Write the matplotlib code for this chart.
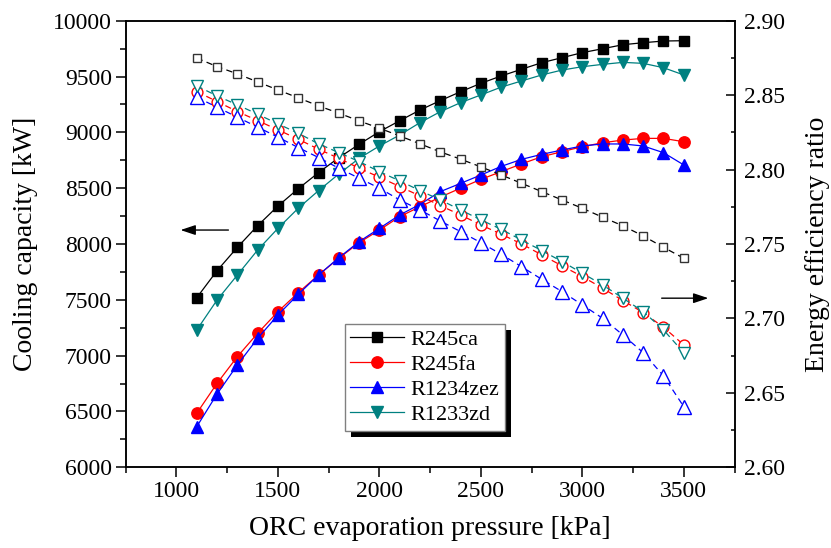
import matplotlib
matplotlib.use("Agg")
import matplotlib.pyplot as plt
from matplotlib.ticker import MultipleLocator, FormatStrFormatter
from matplotlib.patches import Rectangle
from matplotlib.transforms import IdentityTransform

plt.rcParams['font.family'] = ['Liberation Serif', 'DejaVu Serif']

# evaporation pressure [kPa]
pressure = [1100, 1200, 1300, 1400, 1500, 1600, 1700, 1800, 1900, 2000,
            2100, 2200, 2300, 2400, 2500, 2600, 2700, 2800, 2900, 3000,
            3100, 3200, 3300, 3400, 3500]

# cooling capacity [kW]
cap_r245ca = [7519, 7761, 7970, 8164, 8340, 8495, 8639, 8773, 8893, 9006,
              9104, 9200, 9284, 9364, 9439, 9505, 9565, 9624, 9669, 9714,
              9749, 9785, 9803, 9818, 9821]
cap_r245fa = [6484, 6752, 6991, 7200, 7394, 7564, 7722, 7872, 8012, 8125,
              8245, 8334, 8420, 8500, 8579, 8648, 8717, 8782, 8827, 8872,
              8907, 8931, 8946, 8946, 8916]
cap_r1234zez = [6364, 6656, 6916, 7155, 7364, 7549, 7722, 7877, 8021, 8140,
                8260, 8355, 8469, 8543, 8618, 8695, 8758, 8803, 8842, 8878,
                8896, 8896, 8878, 8818, 8708]
cap_r1233zd = [7230, 7498, 7722, 7946, 8140, 8320, 8478, 8627, 8767, 8878,
               8976, 9087, 9185, 9266, 9335, 9405, 9460, 9514, 9558, 9588,
               9609, 9627, 9618, 9579, 9514]

# energy efficiency ratio
eer_r245ca = [2.8749, 2.8692, 2.8643, 2.8589, 2.8535, 2.8482, 2.8428, 2.8379,
              2.8327, 2.8278, 2.8226, 2.8173, 2.8119, 2.8070, 2.8018, 2.7964,
              2.7908, 2.7852, 2.7796, 2.7740, 2.7680, 2.7622, 2.7554, 2.7478,
              2.7404]
eer_r245fa = [2.8524, 2.8457, 2.8390, 2.8329, 2.8267, 2.8204, 2.8137, 2.8076,
              2.8009, 2.7949, 2.7886, 2.7823, 2.7758, 2.7695, 2.7628, 2.7566,
              2.7501, 2.7427, 2.7353, 2.7281, 2.7203, 2.7120, 2.7039, 2.6941,
              2.6822]
eer_r1234zez = [2.8486, 2.8419, 2.8352, 2.8285, 2.8218, 2.8148, 2.8081, 2.8009,
                2.7942, 2.7875, 2.7796, 2.7729, 2.7655, 2.7583, 2.7509, 2.7431,
                2.7348, 2.7263, 2.7180, 2.7091, 2.7001, 2.6889, 2.6770, 2.6614,
                2.6407]
eer_r1233zd = [2.8562, 2.8495, 2.8435, 2.8372, 2.8307, 2.8244, 2.8173, 2.8114,
               2.8054, 2.7986, 2.7924, 2.7859, 2.7796, 2.7729, 2.7662, 2.7599,
               2.7527, 2.7456, 2.7382, 2.7304, 2.7225, 2.7136, 2.7046, 2.6923,
               2.6770]

names = ['R245ca', 'R245fa', 'R1234zez', 'R1233zd']
colors = ['black', '#ff0000', '#0000ff', '#008080']
open_edge = ['#333333', '#ff0000', '#0000ff', '#008080']
markers = ['s', 'o', '^', 'v']
msize_fill = [7, 8.2, 9.2, 9]
msize_open = [6.2, 7.8, 9.4, 9.2]
caps = [cap_r245ca, cap_r245fa, cap_r1234zez, cap_r1233zd]
eers = [eer_r245ca, eer_r245fa, eer_r1234zez, eer_r1233zd]

fig = plt.figure(figsize=(8.31, 5.48), dpi=100)
ax1 = fig.add_axes([0.1513, 0.1473, 0.7326, 0.8149])
ax2 = ax1.twinx()

# cooling capacity: filled markers, solid lines
handles = []
for name, c, m, ms, cap in zip(names, colors, markers, msize_fill, caps):
    h, = ax1.plot(pressure, cap, color=c, lw=0.9, marker=m, ms=ms,
                  markerfacecolor=c, markeredgecolor=c, label=name)
    handles.append(h)

# EER: open markers, dashed lines
for c, ec, m, ms, eer in zip(colors, open_edge, markers, msize_open, eers):
    ax2.plot(pressure, eer, color=c, lw=0.9, ls=(0, (5, 3.5)), marker=m, ms=ms,
             markerfacecolor='white', markeredgecolor=ec, markeredgewidth=1.0)

ax1.set_xlim(750, 3750)
ax1.set_ylim(6000, 10000)
ax2.set_ylim(2.60, 2.90)

ax1.xaxis.set_major_locator(MultipleLocator(500))
ax1.xaxis.set_minor_locator(MultipleLocator(250))
ax1.yaxis.set_major_locator(MultipleLocator(500))
ax1.yaxis.set_minor_locator(MultipleLocator(250))
ax2.yaxis.set_major_locator(MultipleLocator(0.05))
ax2.yaxis.set_minor_locator(MultipleLocator(0.025))
ax2.yaxis.set_major_formatter(FormatStrFormatter('%.2f'))

for a in (ax1, ax2):
    for s in a.spines.values():
        s.set_linewidth(1.1)

ax1.tick_params(axis='both', which='major', direction='out', length=7, width=1.1,
                labelsize=17, pad=3)
ax1.tick_params(axis='both', which='minor', direction='out', length=4, width=1.1)
ax1.tick_params(axis='x', which='both', top=False)
ax1.tick_params(axis='y', which='both', right=False)
ax2.tick_params(axis='y', which='major', direction='in', length=6.3, width=1.1,
                labelsize=17, pad=6.5)
ax2.tick_params(axis='y', which='minor', direction='in', length=3, width=1.1)

ax1.set_xlabel('ORC evaporation pressure [kPa]', fontsize=20)
ax1.set_ylabel('Cooling capacity [kW]', fontsize=20)
ax2.set_ylabel('Energy efficiency ratio', fontsize=20)
ax1.xaxis.set_label_coords(0.5, -0.108)
ax1.yaxis.set_label_coords(-0.144, 0.5)
ax2.yaxis.set_label_coords(1.116, 0.5)

# arrows pointing to the axis of each group of curves
ax1.annotate('', xy=(1020, 8125), xytext=(1256, 8125),
             arrowprops=dict(arrowstyle='-|>,head_length=0.6,head_width=0.2',
                             color='black', lw=1, mutation_scale=15,
                             shrinkA=0, shrinkB=0))
ax2.annotate('', xy=(3621, 2.7136), xytext=(3391, 2.7136),
             arrowprops=dict(arrowstyle='-|>,head_length=0.6,head_width=0.2',
                             color='black', lw=1, mutation_scale=15,
                             shrinkA=0, shrinkB=0))

leg = ax2.legend(handles=handles, loc='upper left', bbox_to_anchor=(0.360, 0.321),
                 fontsize=16, frameon=True, fancybox=False, edgecolor='#808080',
                 facecolor='white', framealpha=1, borderpad=0.25,
                 labelspacing=0.2, handletextpad=0.3, handlelength=2.4,
                 borderaxespad=0)
leg.get_frame().set_linewidth(1.0)
leg.set_zorder(6)

# hard drop shadow behind the legend box
fig.canvas.draw()
bb = leg.get_window_extent()
shadow = Rectangle((bb.x0 + 6, bb.y0 - 6), bb.width, bb.height,
                   transform=IdentityTransform(), facecolor='black',
                   edgecolor='none', zorder=5)
ax2.add_artist(shadow)

fig.savefig('out.png', dpi=100)
